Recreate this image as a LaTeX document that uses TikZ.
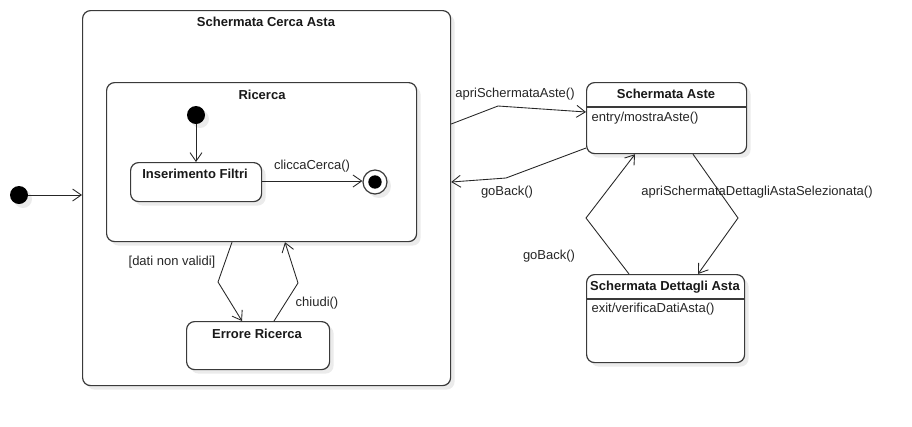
\documentclass[tikz,border=0pt]{standalone}
\usepackage{fontspec}
\setmainfont{Liberation Sans}
\usetikzlibrary{arrows.meta,shadows,calc}
\definecolor{edge}{HTML}{3A3A3A}
\tikzset{
  shd/.style={drop shadow={shadow xshift=3pt,shadow yshift=-3pt,fill=black,opacity=0.08}},
  box/.style={draw=edge,line width=0.9pt,rounded corners=6pt,fill=white,shd,anchor=north west,inner sep=0pt},
  ttl/.style={font=\fontsize{9.75}{11}\selectfont\bfseries,inner sep=1pt,text=black!90},
  lbl/.style={font=\fontsize{9.75}{11}\selectfont,inner sep=1pt,text=black!85},
  tr/.style={draw=black!85,line width=0.65pt,-{Straight Barb[length=6.5pt,width=9pt,line width=0.65pt]}},
  initdot/.style={circle,fill=black,inner sep=0pt,minimum size=13.5pt,shd},
}
\begin{document}
\begin{tikzpicture}[x=0.75pt,y=-0.75pt]
\useasboundingbox[fill=white] (0,0) rectangle (912,426);
% outer composite
\node[box,minimum width={368*0.75pt},minimum height={375*0.75pt}] (sca) at (82,10) {};
\node[ttl] (tsca) at (266,22) {Schermata Cerca Asta};
\node[box,minimum width={310*0.75pt},minimum height={159*0.75pt}] (ric) at (106,82) {};
\node[ttl] (tric) at (262,95) {Ricerca};
\node[initdot] (i1) at (196,115) {};
\node[box,minimum width={131*0.75pt},minimum height={39*0.75pt}] (ins) at (130,162) {};
\node[ttl] (tins) at (195,174) {Inserimento Filtri};
\node[circle,draw=edge,line width=0.9pt,fill=white,minimum size=18pt,inner sep=0pt,shd] (fin) at (375,182) {};
\node[circle,fill=black,minimum size=10pt,inner sep=0pt] (finin) at (fin.center) {};
\node[box,minimum width={143*0.75pt},minimum height={48*0.75pt}] (err) at (186,321) {};
\node[ttl] (terr) at (257,334) {Errore Ricerca};
\node[initdot] (i0) at (19,195) {};
% right states
\node[box,minimum width={160*0.75pt},minimum height={71*0.75pt}] (aste) at (586,82) {};
\node[ttl] (taste) at (666,94) {Schermata Aste};
\draw[draw=edge,line width=0.9pt] (aste.west |- 0,107) -- (aste.east |- 0,107);
\node[lbl,anchor=west] (easte) at (590,118) {entry/mostraAste()};
\node[box,minimum width={158*0.75pt},minimum height={88*0.75pt}] (det) at (586,274) {};
\node[ttl] (tdet) at (665,287) {Schermata Dettagli Asta};
\draw[draw=edge,line width=0.9pt] (det.west |- 0,299) -- (det.east |- 0,299);
\node[lbl,anchor=west] (edet) at (590,309) {exit/verificaDatiAsta()};
% transitions
\draw[tr] (i0) -- (sca.west |- i0);
\draw[tr] (i1) -- (ins.north -| i1);
\draw[tr] (ins.east |- 0,181) -- (fin.west |- 0,181);
\node[lbl] (lcc) at (312,166) {cliccaCerca()};
\draw[tr] (ric.south -| 232,0) -- (218,282) -- (err.north -| 242,0);
\node[lbl] (ldnv) at (172,262) {[dati non validi]};
\draw[tr] (err.north -| 274,0) -- (298,283) -- (ric.south -| 285,0);
\node[lbl] (lchi) at (317,303) {chiudi()};
\draw[tr] (sca.east |- 0,124) -- (498,106) -- (aste.west |- 0,112);
\node[lbl] (lasa) at (515,94) {apriSchermataAste()};
\draw[tr] (aste.west |- 0,148) -- (506,178) -- (sca.east |- 0,182);
\node[lbl] (lgb1) at (507,192) {goBack()};
\draw[tr] (aste.south -| 693,0) -- (738,218) -- (det.north -| 698,0);
\node[lbl] (lasd) at (757,192) {apriSchermataDettagliAstaSelezionata()};
\draw[tr] (det.north -| 629,0) -- (586,218) -- (aste.south -| 635,0);
\node[lbl] (lgb2) at (549,256) {goBack()};
\end{tikzpicture}
\end{document}
